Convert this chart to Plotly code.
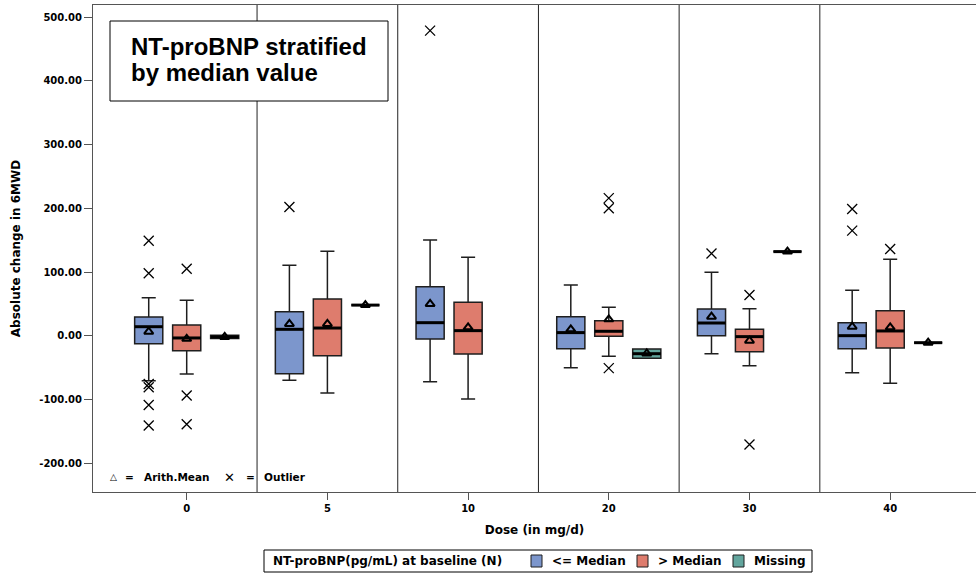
import plotly.graph_objects as go

# Dose groups on the x axis
doses = ["0", "5", "10", "20", "30", "40"]

# <= Median stratum: box statistics per dose
le_q1 = [-12.6, -59.7, -5.2, -20.4, 0.0, -20.4]
le_med = [14.1, 10.0, 20.4, 4.8, 19.9, 0.0]
le_q3 = [29.4, 37.7, 77.0, 29.9, 41.9, 20.4]
le_lo = [-70.7, -70.0, -72.2, -50.3, -28.3, -58.1]
le_hi = [59.7, 110.5, 150.3, 79.6, 99.6, 71.3]
le_mean = [6.3, 18.4, 49.8, 10.0, 29.9, 14.1]
le_out = [[149, 98, -76, -81, -109, -141], [202], [479], [], [129], [199, 165]]

# > Median stratum
gt_q1 = [-23.5, -31.4, -28.7, -0.9, -25.1, -19.3]
gt_med = [-3.6, 12.0, 7.9, 6.9, -1.5, 7.4]
gt_q3 = [16.8, 57.6, 52.5, 23.6, 10.0, 39.3]
gt_lo = [-60.0, -90.0, -99.4, -32.4, -47.1, -74.6]
gt_hi = [55.6, 132.5, 123.0, 44.6, 42.4, 120.0]
gt_mean = [-5.0, 18.4, 13.2, 25.7, -7.8, 13.2]
gt_out = [[105, -94, -139], [], [], [216, 200, -51], [64, -171], [136]]

# Missing baseline value (no patients at 10 mg/d)
mi_doses = ["0", "5", "20", "30", "40"]
mi_q1 = [-4.5, 48.0, -35.5, 132.0, -11.0]
mi_med = [-2.0, 48.0, -28.3, 132.0, -11.0]
mi_q3 = [0.5, 48.0, -20.9, 132.0, -11.0]
mi_lo = [-4.5, 48.0, -35.5, 132.0, -11.0]
mi_hi = [0.5, 48.0, -20.9, 132.0, -11.0]
mi_mean = [-2.0, 48.0, -28.0, 132.0, -11.0]
mi_out = [[], [], [], [], []]

y_ticks = [-200, -100, 0, 100, 200, 300, 400, 500]
y_ticktext = ["%.2f" % v for v in y_ticks]

legend_title = "NT-proBNP(pg/mL) at baseline (N)"

FONT = "DejaVu Sans"
OUTLINE = "#1e1e1e"
BOX_W = 0.2
HALF = BOX_W / 2

# figure geometry (pixels)
W, H = 976, 573
ML, MR, MT, MB = 93, 0, 5, 81
PW, PH = W - ML - MR, H - MT - MB


def px(x):
    return (x - ML) / PW


def py(y):
    return (H - MB - y) / PH


groups = [
    ("<= Median", "#7C96CC", -0.27, doses, le_q1, le_med, le_q3, le_lo, le_hi, le_mean, le_out),
    ("> Median", "#DE7C6D", 0.0, doses, gt_q1, gt_med, gt_q3, gt_lo, gt_hi, gt_mean, gt_out),
    ("Missing", "#62A59D", 0.27, mi_doses, mi_q1, mi_med, mi_q3, mi_lo, mi_hi, mi_mean, mi_out),
]

fig = go.Figure()

for name, color, off, cats, q1, med, q3, lo, hi, mean, outs in groups:
    xs = [doses.index(c) + off for c in cats]
    fig.add_trace(go.Box(
        name=name, x=xs, q1=q1, median=med, q3=q3,
        lowerfence=lo, upperfence=hi,
        width=BOX_W, whiskerwidth=0.5,
        fillcolor=color, line=dict(color=OUTLINE, width=1.5),
        boxpoints=False, hoverinfo="skip", showlegend=False,
    ))
    # heavier median bar
    mx, my = [], []
    for x, m in zip(xs, med):
        mx += [x - HALF, x + HALF, None]
        my += [m, m, None]
    fig.add_trace(go.Scatter(
        x=mx, y=my, mode="lines", line=dict(color="black", width=3),
        showlegend=False, hoverinfo="skip",
    ))
    # arithmetic mean
    fig.add_trace(go.Scatter(
        x=xs, y=mean, mode="markers",
        marker=dict(symbol="triangle-up-open", size=8, color="black",
                    line=dict(color="black", width=2)),
        showlegend=False, hoverinfo="skip",
    ))
    # outliers
    ox, oy = [], []
    for x, vals in zip(xs, outs):
        ox += [x] * len(vals)
        oy += vals
    fig.add_trace(go.Scatter(
        x=ox, y=oy, mode="markers",
        marker=dict(symbol="x-thin", size=10, color="black",
                    line=dict(color="black", width=1.3)),
        showlegend=False, hoverinfo="skip",
    ))

# separators between dose panels
shapes = []
for i in range(len(doses) - 1):
    shapes.append(dict(type="line", xref="x", yref="paper", x0=i + 0.5, x1=i + 0.5,
                       y0=0, y1=1, line=dict(color="#222222", width=1)))
# frame around the stratification note
shapes.append(dict(type="rect", xref="paper", yref="paper",
                   x0=px(110), x1=px(388), y0=py(101), y1=py(21),
                   line=dict(color="black", width=1), fillcolor="white", layer="above"))

note_font = dict(family="Liberation Sans", size=24, color="black", weight="bold")
label_font = dict(family=FONT, size=12, color="black", weight="bold")
key_font = dict(family=FONT, size=10.5, color="black", weight="bold")

annotations = [
    dict(text="NT-proBNP stratified", xref="paper", yref="paper",
         x=px(129), y=py(47), xanchor="left", yanchor="middle", showarrow=False, font=note_font),
    dict(text="by median value", xref="paper", yref="paper",
         x=px(129), y=py(73), xanchor="left", yanchor="middle", showarrow=False, font=note_font),
    # symbol key inside the plot
    dict(text="\u25b3", xref="paper", yref="paper", x=px(113), y=py(477), xanchor="center",
         yanchor="middle", showarrow=False, font=dict(family=FONT, size=9, color="black")),
    dict(text="=", xref="paper", yref="paper", x=px(129), y=py(477), xanchor="center",
         yanchor="middle", showarrow=False, font=key_font),
    dict(text="Arith.Mean", xref="paper", yref="paper", x=px(142), y=py(477), xanchor="left",
         yanchor="middle", showarrow=False, font=key_font),
    dict(text="\u2715", xref="paper", yref="paper", x=px(229), y=py(477), xanchor="center",
         yanchor="middle", showarrow=False, font=dict(family=FONT, size=13, color="black")),
    dict(text="=", xref="paper", yref="paper", x=px(250), y=py(477), xanchor="center",
         yanchor="middle", showarrow=False, font=key_font),
    dict(text="Outlier", xref="paper", yref="paper", x=px(262), y=py(477), xanchor="left",
         yanchor="middle", showarrow=False, font=key_font),
]

# stratum legend below the axis
shapes.append(dict(type="rect", xref="paper", yref="paper",
                   x0=px(264), x1=px(812), y0=py(572), y1=py(550),
                   line=dict(color="black", width=1), fillcolor="white"))
annotations.append(dict(text=legend_title, xref="paper", yref="paper", x=px(271), y=py(561),
                        xanchor="left", yanchor="middle", showarrow=False, font=label_font))
swatch_left = [531, 637, 733]
for (name, color, *_), sx in zip(groups, swatch_left):
    shapes.append(dict(type="rect", xref="paper", yref="paper",
                       x0=px(sx), x1=px(sx + 11), y0=py(567), y1=py(555),
                       line=dict(color=OUTLINE, width=1), fillcolor=color))
    annotations.append(dict(text=name, xref="paper", yref="paper", x=px(sx + 19), y=py(561),
                            xanchor="left", yanchor="middle", showarrow=False, font=label_font))

fig.update_layout(
    width=W, height=H,
    margin=dict(l=ML, r=MR, t=MT, b=MB, autoexpand=False),
    paper_bgcolor="white", plot_bgcolor="white",
    font=dict(family=FONT, size=12, color="black", weight="bold"),
    boxmode="overlay", showlegend=False,
    shapes=shapes, annotations=annotations,
    xaxis=dict(
        range=[-0.666, 5.61], tickvals=list(range(len(doses))), ticktext=doses,
        showgrid=False, zeroline=False, showline=True, linecolor="#555555", linewidth=1,
        mirror=True, ticks="outside", ticklen=7, tickcolor="#555555",
        title=dict(text="Dose (in mg/d)", standoff=12, font=label_font),
        tickfont=dict(family=FONT, size=10, weight="bold"),
    ),
    yaxis=dict(
        range=[-245.5, 519.3], tickvals=y_ticks, ticktext=y_ticktext,
        showgrid=False, zeroline=False, showline=True, linecolor="#555555", linewidth=1,
        mirror=False, ticks="outside", ticklen=8, tickcolor="#555555",
        title=dict(text="Absolute change in 6MWD", standoff=16, font=label_font),
        tickfont=dict(family=FONT, size=10, weight="bold"),
    ),
)

fig.write_html("out.html")
